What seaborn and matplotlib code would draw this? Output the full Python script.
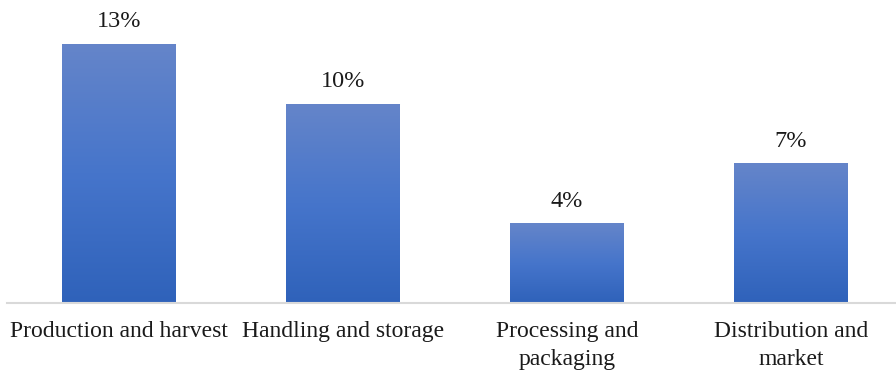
import numpy as np
import pandas as pd
import seaborn as sns
import matplotlib.pyplot as plt
from matplotlib.colors import LinearSegmentedColormap

stages = ["Production and harvest", "Handling and storage",
          "Processing and\npackaging", "Distribution and\nmarket"]
losses = [13, 10, 4, 7]
labels = ["13%", "10%", "4%", "7%"]

df = pd.DataFrame({"stage": stages, "loss": losses})

sns.set_style("white")
plt.rcParams['font.family'] = ['Liberation Serif', 'DejaVu Serif']

fig = plt.figure(figsize=(8.96, 3.74), dpi=100)
ax = fig.add_axes([7 / 896, 71 / 374, 1.0, 297 / 374])

sns.barplot(data=df, x="stage", y="loss", color="#4472C4", width=0.505, ax=ax)

# vertical gradient fill for each bar
cmap = LinearSegmentedColormap.from_list("bar", ["#2F62BA", "#4675CB", "#6585C9"])
grad = np.linspace(0, 1, 256).reshape(-1, 1)
for bar in ax.patches:
    x0, y0 = bar.get_x(), bar.get_y()
    w, h = bar.get_width(), bar.get_height()
    im = ax.imshow(grad, cmap=cmap, origin="lower", aspect="auto",
                   extent=[x0, x0 + w, y0, y0 + h], zorder=bar.get_zorder() + 0.1)
    im.set_clip_path(bar)
ax.set_xlim(-0.5, 3.5)
ax.set_ylim(0, 14.9)

for bar, lab in zip(ax.patches, labels):
    ax.annotate(lab, (bar.get_x() + bar.get_width() / 2, bar.get_height()),
                xytext=(0, 16), textcoords="offset points",
                ha="center", va="center", fontsize=17.5, color="#1a1a1a")

for s in ["top", "right", "left"]:
    ax.spines[s].set_visible(False)
ax.spines["bottom"].set_color("#D9D9D9")
ax.spines["bottom"].set_linewidth(1.5)
ax.set_yticks([])
ax.set_xlabel("")
ax.set_ylabel("")
ax.tick_params(axis="x", length=0, labelsize=17, colors="#1a1a1a", pad=13)
for t in ax.get_xticklabels():
    t.set_linespacing(1.42)

fig.savefig("out.png", dpi=100)
